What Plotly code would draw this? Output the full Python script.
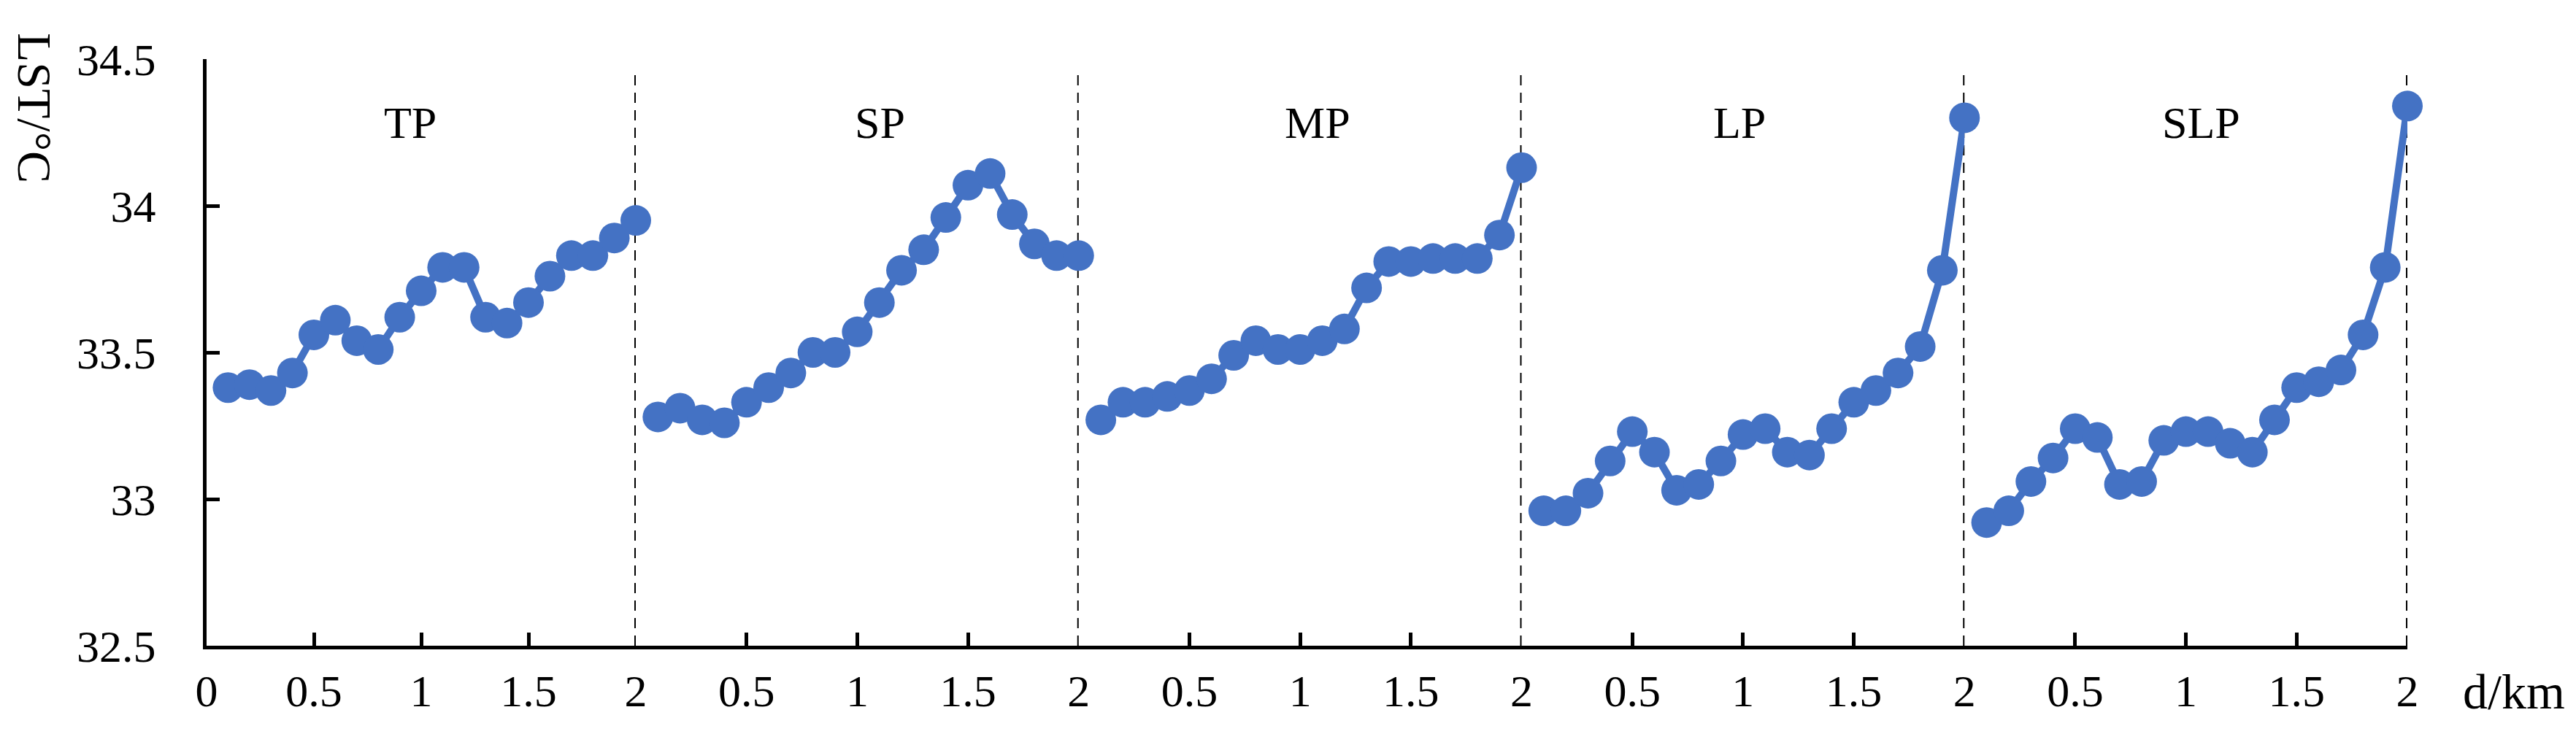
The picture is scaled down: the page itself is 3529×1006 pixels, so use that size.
import plotly.graph_objects as go

# ---- data ----
distance_km = [0.1, 0.2, 0.3, 0.4, 0.5, 0.6, 0.7, 0.8, 0.9, 1.0,
               1.1, 1.2, 1.3, 1.4, 1.5, 1.6, 1.7, 1.8, 1.9, 2.0]

panel_names = ["TP", "SP", "MP", "LP", "SLP"]

lst_TP = [33.38, 33.39, 33.37, 33.43, 33.56, 33.61, 33.54, 33.51, 33.62, 33.71,
          33.79, 33.79, 33.62, 33.60, 33.67, 33.76, 33.83, 33.83, 33.89, 33.95]
lst_SP = [33.28, 33.31, 33.27, 33.26, 33.33, 33.38, 33.43, 33.50, 33.50, 33.57,
          33.67, 33.78, 33.85, 33.96, 34.07, 34.11, 33.97, 33.87, 33.83, 33.83]
lst_MP = [33.27, 33.33, 33.33, 33.35, 33.37, 33.41, 33.49, 33.54, 33.51, 33.51,
          33.54, 33.58, 33.72, 33.81, 33.81, 33.82, 33.82, 33.82, 33.90, 34.13]
lst_LP = [32.96, 32.96, 33.02, 33.13, 33.23, 33.16, 33.03, 33.05, 33.13, 33.22,
          33.24, 33.16, 33.15, 33.24, 33.33, 33.37, 33.43, 33.52, 33.78, 34.30]
lst_SLP = [32.92, 32.96, 33.06, 33.14, 33.24, 33.21, 33.05, 33.06, 33.20, 33.23,
           33.23, 33.19, 33.16, 33.27, 33.38, 33.40, 33.44, 33.56, 33.79, 34.34]
series = [lst_TP, lst_SP, lst_MP, lst_LP, lst_SLP]

first_tick_vals = [0, 0.5, 1, 1.5, 2]
first_tick_text = ["0", "0.5", "1", "1.5", "2"]
other_tick_vals = [0.5, 1, 1.5, 2]
other_tick_text = ["0.5", "1", "1.5", "2"]
y_tick_vals = [32.5, 33, 33.5, 34, 34.5]
y_tick_text = ["32.5", "33", "33.5", "34", "34.5"]

# ---- styling ----
W, H = 3529, 1006
ML, MR, MT, MB = 275, 239, 73, 129
PW = W - ML - MR
PH = H - MT - MB
BLUE = "#4472C4"
FONT = "Liberation Serif"
TICKFONT = 62

# panel boundaries in pixels (first panel slightly narrower, as in the reference)
bounds_px = [275, 863, 1469.75, 2076.5, 2683.25, 3290]
domains = [[(bounds_px[i] - ML) / PW, (bounds_px[i + 1] - ML) / PW] for i in range(5)]
domains[-1][1] = 1.0

fig = go.Figure()
for i, (name, vals) in enumerate(zip(panel_names, series)):
    xa = "x" if i == 0 else f"x{i+1}"
    fig.add_trace(go.Scatter(
        x=distance_km, y=vals, mode="lines+markers", name=name,
        xaxis=xa, yaxis="y", cliponaxis=False,
        line=dict(color=BLUE, width=10),
        marker=dict(color=BLUE, size=42),
        showlegend=False,
    ))

layout = dict(
    width=W, height=H,
    margin=dict(l=ML, r=MR, t=MT, b=MB, pad=0, autoexpand=False),
    paper_bgcolor="white", plot_bgcolor="white",
    font=dict(family=FONT, color="black"),
    yaxis=dict(
        range=[32.5, 34.5], tickvals=y_tick_vals, ticktext=y_tick_text,
        showline=True, linecolor="black", linewidth=5,
        ticks="inside", ticklen=18, tickwidth=5, tickcolor="black",
        showgrid=False, zeroline=False, anchor="x", automargin=False,
        tickfont=dict(family=FONT, size=TICKFONT, color="black"),
        ticklabelstandoff=52,
    ),
)
for i in range(5):
    key = "xaxis" if i == 0 else f"xaxis{i+1}"
    layout[key] = dict(
        domain=domains[i], range=[0, 2], anchor="y", automargin=False,
        tickvals=first_tick_vals if i == 0 else other_tick_vals,
        ticktext=first_tick_text if i == 0 else other_tick_text,
        showline=True, linecolor="black", linewidth=5,
        ticks="inside", ticklen=18, tickwidth=5, tickcolor="black",
        showgrid=False, zeroline=False,
        tickfont=dict(family=FONT, size=TICKFONT, color="black"),
        ticklabelstandoff=4,
    )
fig.update_layout(**layout)

# dashed separators at the end of each panel
for i in range(5):
    xref = "x" if i == 0 else f"x{i+1}"
    fig.add_shape(type="line", xref=xref, yref="y", x0=2, x1=2, y0=32.5, y1=34.46,
                  line=dict(color="black", width=4, dash="14px,10px"), layer="below")

# panel labels
label_px = [554, 1197, 1797, 2375, 3007]
for name, px in zip(panel_names, label_px):
    fig.add_annotation(text=name, x=(px - ML) / PW, y=(MT + PH - 160) / PH,
                       xref="paper", yref="paper", showarrow=False,
                       xanchor="center", yanchor="middle",
                       font=dict(family=FONT, size=62, color="black"))

# axis titles
fig.add_annotation(text="d/km", x=(3436 - ML) / PW, y=(MT + PH - 940) / PH,
                   xref="paper", yref="paper", showarrow=False,
                   xanchor="center", yanchor="middle",
                   font=dict(family=FONT, size=68, color="black"))
fig.add_annotation(text="LST/°C", x=(40 - ML) / PW, y=(MT + PH - 140) / PH,
                   xref="paper", yref="paper", showarrow=False, textangle=90,
                   xanchor="center", yanchor="middle",
                   font=dict(family=FONT, size=66, color="black"))

fig.write_html("out.html")
